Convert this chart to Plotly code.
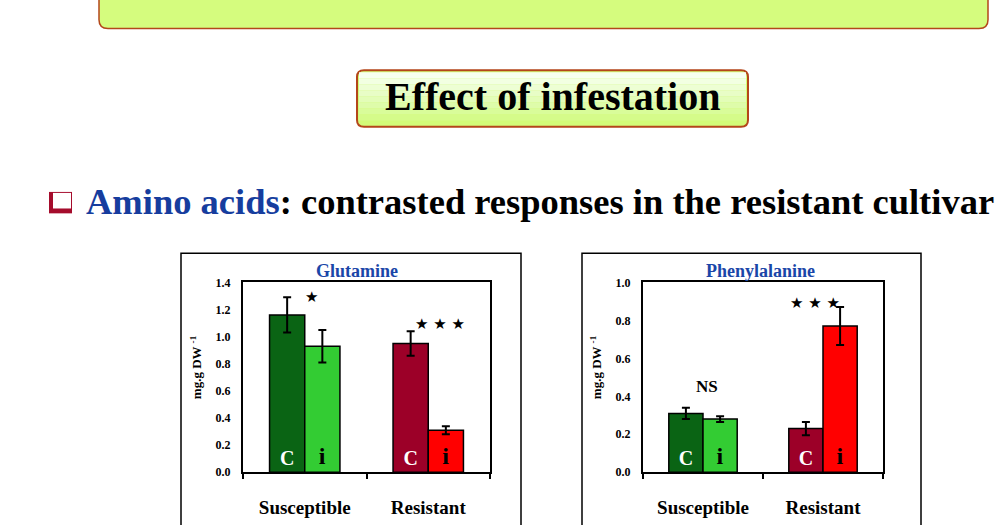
import plotly.graph_objects as go

# ---- data ----
cultivars = ["Susceptible", "Resistant"]

glu_control = [1.16, 0.95]
glu_control_err = [0.13, 0.09]
glu_infested = [0.93, 0.31]
glu_infested_err = [0.12, 0.03]

phe_control = [0.31, 0.23]
phe_control_err = [0.03, 0.035]
phe_infested = [0.28, 0.77]
phe_infested_err = [0.015, 0.10]

control_colors = ["#0a6414", "#9c0028"]
infested_colors = ["#33cc33", "#ff0000"]

W, H = 1004, 525
SERIF = "Liberation Serif, Times New Roman, serif"


def px(x):
    return x / W


def py(y):
    return 1 - y / H


def rounded_rect(x0, y0, x1, y1, r):
    rx, ry = r / W, r / H
    a, b, c, d = px(x0), py(y0), px(x1), py(y1)
    return (f"M {a + rx},{b} L {c - rx},{b} Q {c},{b} {c},{b - ry} "
            f"L {c},{d + ry} Q {c},{d} {c - rx},{d} L {a + rx},{d} "
            f"Q {a},{d} {a},{d + ry} L {a},{b - ry} Q {a},{b} {a + rx},{b} Z")


fig = go.Figure()


def add_pair(ctrl, ctrl_err, inf, inf_err, xa, ya):
    fig.add_trace(go.Bar(
        x=cultivars, y=ctrl, xaxis=xa, yaxis=ya,
        marker=dict(color=control_colors, line=dict(color="black", width=1.5)),
        error_y=dict(type="data", array=ctrl_err, color="black", thickness=2, width=4),
        text=["C", "C"], textposition="inside", insidetextanchor="start",
        textangle=0, constraintext="none",
        insidetextfont=dict(family=SERIF, size=20, color="white", weight="bold"),
        showlegend=False, hoverinfo="skip",
    ))
    fig.add_trace(go.Bar(
        x=cultivars, y=inf, xaxis=xa, yaxis=ya,
        marker=dict(color=infested_colors, line=dict(color="black", width=1.5)),
        error_y=dict(type="data", array=inf_err, color="black", thickness=2, width=4),
        text=["i", "i"], textposition="inside", insidetextanchor="start",
        textangle=0, constraintext="none",
        insidetextfont=dict(family=SERIF, size=24, color="black", weight="bold"),
        showlegend=False, hoverinfo="skip",
    ))


add_pair(glu_control, glu_control_err, glu_infested, glu_infested_err, "x", "y")
add_pair(phe_control, phe_control_err, phe_infested, phe_infested_err, "x2", "y2")

xcommon = dict(type="category", showline=True, mirror=True, linecolor="black", linewidth=2,
               ticks="outside", tickson="boundaries", ticklen=5, tickwidth=2, tickcolor="black",
               showgrid=False, ticklabelstandoff=17,
               tickfont=dict(family=SERIF, size=19, color="black", weight="bold"))
ycommon = dict(showline=True, mirror=True, linecolor="black", linewidth=2, ticks="",
               showgrid=False, zeroline=False, dtick=0.2, tickformat=".1f",
               ticklabelstandoff=8, tickfont=dict(family=SERIF, size=12, color="black", weight="bold"))

fig.update_layout(
    width=W, height=H, margin=dict(l=0, r=0, t=0, b=0),
    paper_bgcolor="white", plot_bgcolor="white",
    barmode="group", bargap=0.43, bargroupgap=0,
    xaxis=dict(domain=[px(243), px(490)], anchor="y", **xcommon),
    yaxis=dict(domain=[py(478), py(283)], anchor="x", range=[0, 1.4], **ycommon),
    xaxis2=dict(domain=[px(643), px(883)], anchor="y2", **xcommon),
    yaxis2=dict(domain=[py(478), py(283)], anchor="x2", range=[0, 1.0], **ycommon),
)

shapes = []
# top banner
shapes.append(dict(type="path", xref="paper", yref="paper",
                   path=rounded_rect(99, -20, 988, 22, 9),
                   fillcolor="#d5fc7e", line=dict(color="#b4461a", width=1.5), layer="below"))
# title box with a soft vertical gradient
shapes.append(dict(type="path", xref="paper", yref="paper",
                   path=rounded_rect(357, 65, 748, 123, 7),
                   fillcolor="#d3fb78", line=dict(color="#b4461a", width=2), layer="below"))
bands = ["#f7fff0", "#f2ffe2", "#edfed4", "#e8fdc6", "#e3fdb8", "#defcaa", "#d9fc9a", "#d5fb8a"]
y = 67
for col in bands:
    shapes.append(dict(type="rect", xref="paper", yref="paper",
                       x0=px(359), x1=px(746), y0=py(y), y1=py(y + 6.2),
                       fillcolor=col, line=dict(width=0), layer="below"))
    y += 6.2
# bullet
shapes.append(dict(type="rect", xref="paper", yref="paper", x0=px(49), x1=px(72), y0=py(212), y1=py(190),
                   fillcolor="#a50c2c", line=dict(width=0)))
shapes.append(dict(type="rect", xref="paper", yref="paper", x0=px(53), x1=px(71), y0=py(207), y1=py(191),
                   fillcolor="white", line=dict(width=0)))
# chart frames
for x0, x1 in [(181, 521), (582, 921)]:
    shapes.append(dict(type="rect", xref="paper", yref="paper", x0=px(x0), x1=px(x1),
                       y0=py(253), y1=py(545), line=dict(color="black", width=1.5),
                       fillcolor="rgba(0,0,0,0)", layer="below"))
fig.update_layout(shapes=shapes)

ann = []
ann.append(dict(xref="paper", yref="paper", x=px(552), y=py(92), xanchor="center", yanchor="middle",
                text="<b>Effect of infestation</b>",
                showarrow=False, font=dict(family=SERIF, size=40, color="black")))
ann.append(dict(xref="paper", yref="paper", x=px(84), y=py(200), xanchor="left", yanchor="middle",
                text='<b><span style="color:#163d9e">Amino acids</span>: contrasted responses in the resistant cultivar</b>',
                showarrow=False, font=dict(family=SERIF, size=36.5, color="black")))
for title, xp in [("Glutamine", 357), ("Phenylalanine", 760)]:
    ann.append(dict(xref="paper", yref="paper", x=px(xp), y=py(271), xanchor="center", yanchor="middle",
                    text=f"<b>{title}</b>", showarrow=False,
                    font=dict(family=SERIF, size=18, color="#1a46a8")))
for xp in [196, 596]:
    ann.append(dict(xref="paper", yref="paper", x=px(xp), y=py(370), xanchor="center", yanchor="middle",
                    text="<b>mg.g DW <sup>-1</sup></b>", textangle=-90, showarrow=False,
                    font=dict(family=SERIF, size=13, color="black")))
STAR = dict(family="DejaVu Sans", size=15, color="black")
ann.append(dict(xref="x", yref="y", x="Susceptible", y=1.29, xshift=7, text="★", showarrow=False, font=STAR))
ann.append(dict(xref="x", yref="y", x="Resistant", y=1.09, xshift=12, text="★ ★ ★", showarrow=False, font=STAR))
ann.append(dict(xref="x2", yref="y2", x="Resistant", y=0.89, xshift=-8, text="★ ★ ★", showarrow=False, font=STAR))
ann.append(dict(xref="x2", yref="y2", x="Susceptible", y=0.45, xshift=4, text="<b>NS</b>", showarrow=False,
                font=dict(family=SERIF, size=17, color="black")))
fig.update_layout(annotations=ann)

fig.write_html("out.html", config={"displayModeBar": False},
               post_script="document.body.style.margin='0';")
